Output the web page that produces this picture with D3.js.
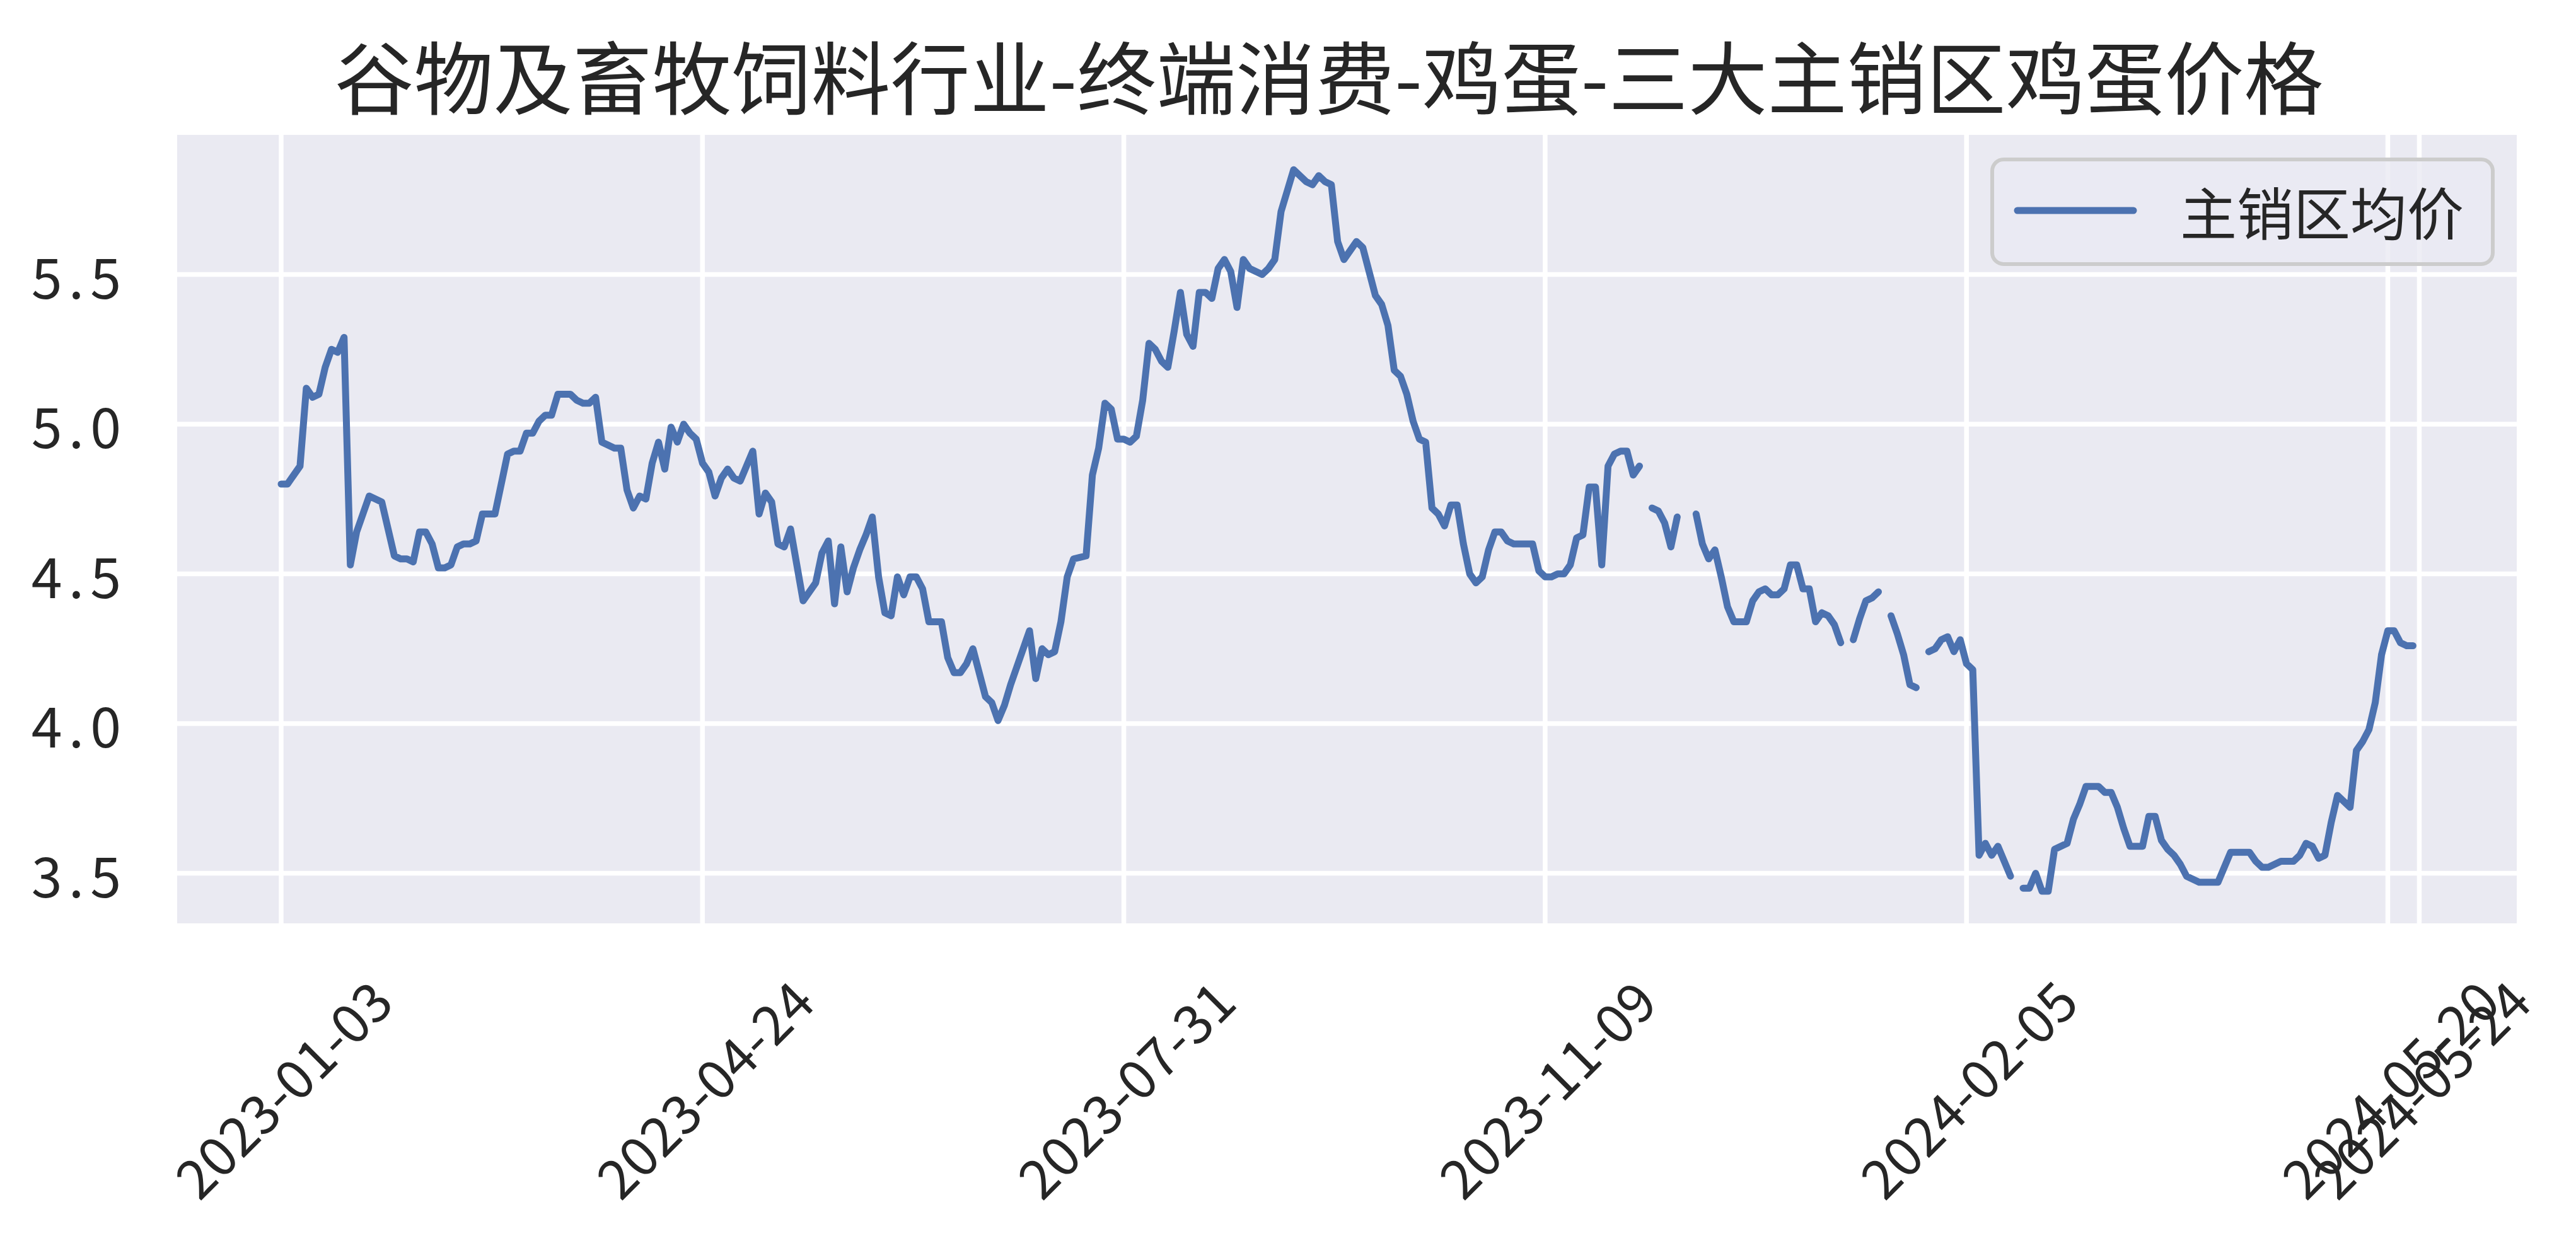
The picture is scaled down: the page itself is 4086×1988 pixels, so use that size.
<!DOCTYPE html>
<html><head><meta charset="utf-8">
<script src="https://cdn.jsdelivr.net/npm/d3@7"></script>
<style>
html,body{margin:0;padding:0;background:#fff;}
svg{display:block;}
text{font-family:"Noto Sans CJK SC","Noto Sans",sans-serif;fill:#262626;}
</style></head><body>
<script>
const title = "谷物及畜牧饲料行业-终端消费-鸡蛋-三大主销区鸡蛋价格";
const seriesName = "主销区均价";
// series values by observation index (null = missing)
const values = [
4.80,4.80,4.83,4.86,5.12,5.09,5.10,5.19,5.25,5.24,
5.29,4.53,4.64,4.70,4.76,4.75,4.74,4.65,4.56,4.55,
4.55,4.54,4.64,4.64,4.60,4.52,4.52,4.53,4.59,4.60,
4.60,4.61,4.70,4.70,4.70,4.80,4.90,4.91,4.91,4.97,
4.97,5.01,5.03,5.03,5.10,5.10,5.10,5.08,5.07,5.07,
5.09,4.94,4.93,4.92,4.92,4.78,4.72,4.76,4.75,4.87,
4.94,4.85,4.99,4.94,5.00,4.97,4.95,4.87,4.84,4.76,
4.82,4.85,4.82,4.81,4.86,4.91,4.70,4.77,4.74,4.60,
4.59,4.65,4.53,4.41,4.44,4.47,4.57,4.61,4.40,4.59,
4.44,4.52,4.58,4.63,4.69,4.49,4.37,4.36,4.49,4.43,
4.49,4.49,4.45,4.34,4.34,4.34,4.22,4.17,4.17,4.20,
4.25,4.17,4.09,4.07,4.01,4.06,4.13,4.19,4.25,4.31,
4.15,4.25,4.23,4.24,4.34,4.49,4.55,4.555,4.56,4.83,
4.92,5.07,5.05,4.95,4.95,4.94,4.96,5.08,5.27,5.25,
5.21,5.19,5.31,5.44,5.30,5.26,5.44,5.44,5.42,5.52,
5.55,5.51,5.39,5.55,5.52,5.51,5.50,5.52,5.55,5.71,
5.78,5.85,5.83,5.81,5.80,5.83,5.81,5.80,5.61,5.55,
5.58,5.61,5.59,5.51,5.43,5.40,5.33,5.18,5.16,5.10,
5.01,4.95,4.94,4.72,4.70,4.66,4.73,4.73,4.60,4.50,
4.47,4.49,4.58,4.64,4.64,4.61,4.60,4.60,4.60,4.60,
4.51,4.49,4.49,4.50,4.50,4.53,4.62,4.63,4.79,4.79,
4.53,4.86,4.90,4.91,4.91,4.83,4.86,null,4.72,4.71,
4.67,4.59,4.69,null,null,4.70,4.60,4.55,4.58,4.49,
4.39,4.34,4.34,4.34,4.41,4.44,4.45,4.43,4.43,4.45,
4.53,4.53,4.45,4.45,4.34,4.37,4.36,4.33,4.27,null,
4.28,4.35,4.41,4.42,4.44,null,4.36,4.30,4.23,4.13,
4.12,null,4.24,4.25,4.28,4.29,4.24,4.28,4.20,4.18,
3.56,3.60,3.56,3.59,3.54,3.49,null,3.45,3.45,3.50,
3.44,3.44,3.58,3.59,3.60,3.68,3.73,3.79,3.79,3.79,
3.77,3.77,3.72,3.65,3.59,3.59,3.59,3.69,3.69,3.61,
3.58,3.56,3.53,3.49,3.48,3.47,3.47,3.47,3.47,3.52,
3.57,3.57,3.57,3.57,3.54,3.52,3.52,3.53,3.54,3.54,
3.54,3.56,3.60,3.59,3.55,3.56,3.67,3.76,3.74,3.72,
3.91,3.94,3.98,4.07,4.23,4.31,4.31,4.27,4.26,4.26,
null
];
const tickIndex = [0, 67, 134, 201, 268, 335, 340];
const tickLabels = ["2023-01-03","2023-04-24","2023-07-31","2023-11-09","2024-02-05","2024-05-20","2024-05-24"];
const yTicks = [3.5, 4.0, 4.5, 5.0, 5.5];
const yTickLabels = ["3.5","4.0","4.5","5.0","5.5"];

const W = 4086, H = 1988;
const plot = {left: 281, right: 3992, top: 214, bottom: 1465};
const x = d3.scaleLinear().domain([-16.54, 355.5]).range([plot.left, plot.right]);
const y = d3.scaleLinear().domain([3.3326, 5.9663]).range([plot.bottom, plot.top]);

const svg = d3.select("body").append("svg").attr("width", W).attr("height", H);
svg.append("rect").attr("width", W).attr("height", H).attr("fill", "#ffffff");

svg.append("rect")
  .attr("x", plot.left).attr("y", plot.top)
  .attr("width", plot.right - plot.left).attr("height", plot.bottom - plot.top)
  .attr("fill", "#eaeaf2");

const grid = svg.append("g").attr("stroke", "#ffffff").attr("stroke-width", 7.5);
grid.selectAll("line.h").data(yTicks).enter().append("line")
  .attr("x1", plot.left).attr("x2", plot.right)
  .attr("y1", d => y(d)).attr("y2", d => y(d));
grid.selectAll("line.v").data(tickIndex).enter().append("line")
  .attr("y1", plot.top).attr("y2", plot.bottom)
  .attr("x1", d => x(d)).attr("x2", d => x(d));

const line = d3.line()
  .defined(d => d != null)
  .x((d, i) => x(i))
  .y(d => y(d));
svg.append("path").datum(values)
  .attr("d", line)
  .attr("fill", "none")
  .attr("stroke", "#4c72b0")
  .attr("stroke-width", 11)
  .attr("stroke-linecap", "round")
  .attr("stroke-linejoin", "round");

// y tick labels
svg.append("g").selectAll("text").data(yTicks).enter().append("text")
  .attr("x", 202).attr("y", d => y(d))
  .attr("text-anchor", "end").attr("dominant-baseline", "central")
  .attr("font-size", 88)
  .style("letter-spacing", "10px")
  .text((d, i) => yTickLabels[i]);

// x tick labels (rotated 45deg, centered under tick)
svg.append("g").selectAll("text").data(tickIndex).enter().append("text")
  .attr("transform", d => `translate(${x(d)},1725) rotate(-45)`)
  .attr("text-anchor", "middle").attr("dominant-baseline", "central")
  .attr("font-size", 86)
  .text((d, i) => tickLabels[i]);

// title
svg.append("text")
  .attr("x", 2108).attr("y", 117)
  .attr("text-anchor", "middle").attr("dominant-baseline", "central")
  .attr("font-size", 126)
  .text(title);

// legend
const lg = svg.append("g");
lg.append("rect")
  .attr("x", 3160).attr("y", 253).attr("width", 794).attr("height", 166)
  .attr("rx", 18).attr("ry", 18)
  .attr("fill", "#eaeaf2").attr("fill-opacity", 0.8)
  .attr("stroke", "#cccccc").attr("stroke-width", 6);
lg.append("line")
  .attr("x1", 3200).attr("x2", 3384).attr("y1", 334).attr("y2", 334)
  .attr("stroke", "#4c72b0").attr("stroke-width", 11).attr("stroke-linecap", "round");
lg.append("text")
  .attr("x", 3458).attr("y", 334)
  .attr("dominant-baseline", "central")
  .attr("font-size", 90)
  .text(seriesName);
</script>
</body></html>
